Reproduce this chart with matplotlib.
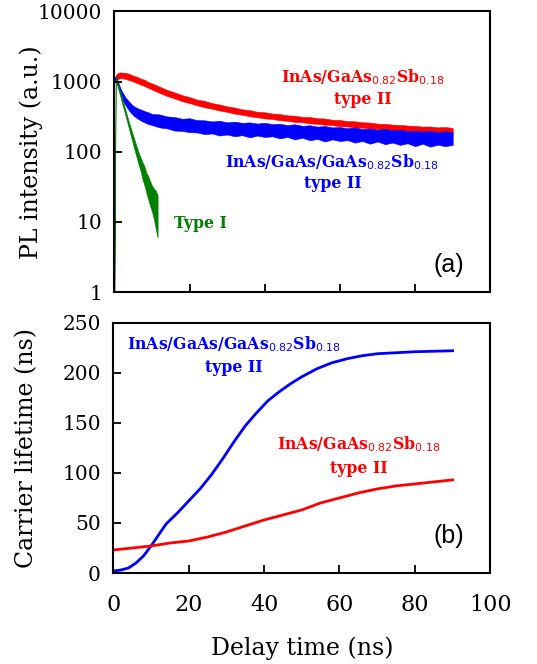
import matplotlib
matplotlib.use("Agg")
import matplotlib.pyplot as plt

# ---- (a) PL decay: noisy bands given as upper / lower envelopes ----
band_t = [0, 0.5, 1, 1.5, 2, 3, 4, 5, 6, 7, 8, 9, 10,
          12, 14, 16, 18, 20, 22, 24, 26, 28, 30, 32, 34, 36, 38, 40,
          42, 44, 46, 48, 50, 52, 54, 56, 58, 60, 62, 64, 66, 68, 70,
          72, 74, 76, 78, 80, 82, 84, 86, 88, 90]

red_hi = [1120, 1260, 1320, 1350, 1340, 1330, 1280, 1210, 1170, 1100, 1060, 985, 940,
          845, 760, 700, 640, 600, 552, 530, 492, 470, 443, 426, 402, 392, 371, 365,
          350, 343, 330, 326, 314, 312, 300, 297, 285, 283, 273, 271, 263, 260, 251,
          250, 243, 241, 236, 234, 228, 229, 222, 225, 218]
red_lo = [990, 1060, 1090, 1110, 1120, 1085, 1045, 1000, 950, 905, 862, 812, 768,
          690, 622, 575, 525, 493, 458, 430, 410, 386, 369, 349, 337, 320, 310, 298,
          293, 281, 276, 266, 263, 253, 250, 242, 239, 231, 229, 221, 220, 213, 211,
          205, 203, 198, 197, 193, 191, 187, 187, 183, 183]

blue_hi = [1120, 1180, 980, 830, 720, 590, 510, 450, 420, 400, 380, 365, 345,
           340, 318, 312, 295, 300, 282, 280, 270, 276, 262, 268, 258, 262, 252, 258,
           248, 250, 240, 246, 234, 238, 228, 232, 222, 225, 216, 222, 210, 214, 206,
           212, 202, 205, 197, 200, 194, 198, 190, 196, 190]
blue_lo = [980, 1020, 820, 680, 570, 455, 380, 330, 300, 278, 262, 248, 240,
           222, 215, 200, 198, 190, 188, 178, 182, 170, 176, 166, 172, 160, 170, 162,
           166, 155, 162, 150, 158, 146, 152, 140, 150, 142, 146, 135, 142, 130, 140,
           128, 135, 125, 132, 120, 130, 118, 126, 120, 125]

green_t = [0, 0.35, 1, 2, 3, 4, 5, 6, 6.5, 7, 7.5, 8, 8.5, 9, 9.5, 10, 10.5, 11, 11.5]
green_hi = [0.9, 1200, 900, 590, 385, 250, 170, 115, 96, 82, 70, 62, 50, 45, 38, 33, 30, 28, 24]
green_lo = [0.8, 1050, 800, 500, 320, 200, 125, 80, 64, 52, 40, 33, 26, 21, 17, 14, 11, 8, 6]

# ---- (b) carrier lifetime ----
life_blue_t = [0, 2, 4, 6, 8, 10, 12, 14, 17, 20, 23, 26, 29, 32, 35, 38, 41, 44, 47,
               50, 54, 58, 62, 66, 70, 75, 80, 85, 90]
life_blue = [2, 3, 5, 10, 17, 27, 38, 49, 60, 72, 84, 98, 114, 131, 147, 160, 172, 181, 189,
             196, 204, 210, 214, 217, 219, 220, 221, 221.5, 222]
life_red_t = [0, 5, 10, 15, 20, 25, 30, 35, 40, 45, 50, 55, 60, 65, 70, 75, 80, 85, 90]
life_red = [23, 25, 27, 30, 32, 36, 41, 47, 53, 58, 63, 70, 75, 80, 84, 87, 89, 91, 93]

RED = "#ff0000"
BLUE = "#0000ff"
GREEN = "#008000"
serif = "DejaVu Serif"
ann = dict(ha="center", va="center", fontsize=11.3, family=serif, fontweight="bold")

fig = plt.figure(figsize=(5.37, 6.64), dpi=100)
ax1 = fig.add_axes([0.213, 0.560, 0.700, 0.423])
ax2 = fig.add_axes([0.211, 0.137, 0.702, 0.377])

ax1.fill_between(band_t, red_lo, red_hi, color=RED, lw=0.4)
ax1.fill_between(band_t, blue_lo, blue_hi, color=BLUE, lw=0.4)
ax1.fill_between(green_t, green_lo, green_hi, color=GREEN, lw=0.4)
ax1.set_yscale("log")
ax1.set_ylim(1, 10000)
ax1.set_xlim(0, 100)
ax1.set_xticks([0, 20, 40, 60, 80, 100])
ax1.set_xticklabels([])
ax1.set_yticks([1, 10, 100, 1000, 10000])
ax1.set_yticklabels(["1", "10", "100", "1000", "10000"])
ax1.minorticks_off()
ax1.set_ylabel("PL intensity (a.u.)", fontsize=17, family=serif)
ax1.yaxis.set_label_coords(-0.19, 0.5)

ax1.text(66, 1150, r"InAs/GaAs$_{0.82}$Sb$_{0.18}$", color=RED, **ann)
ax1.text(66, 560, "type II", color=RED, **ann)
ax1.text(58, 70, r"InAs/GaAs/GaAs$_{0.82}$Sb$_{0.18}$", color=BLUE, **ann)
ax1.text(58, 35, "type II", color=BLUE, **ann)
ax1.text(23, 9.5, "Type I", color=GREEN, **ann)
ax1.text(89, 2.4, "(a)", ha="center", va="center", fontsize=18, family="Liberation Sans")

ax2.plot(life_blue_t, life_blue, color=BLUE, lw=2)
ax2.plot(life_red_t, life_red, color=RED, lw=2)
ax2.set_xlim(0, 100)
ax2.set_ylim(0, 250)
ax2.set_xticks([0, 20, 40, 60, 80, 100])
ax2.set_yticks([0, 50, 100, 150, 200, 250])
ax2.set_xlabel("Delay time (ns)", fontsize=17, family=serif)
ax2.xaxis.set_label_coords(0.5, -0.255)
ax2.set_ylabel("Carrier lifetime (ns)", fontsize=17, family=serif)
ax2.yaxis.set_label_coords(-0.2, 0.5)

ax2.text(32, 229, r"InAs/GaAs/GaAs$_{0.82}$Sb$_{0.18}$", color=BLUE, **ann)
ax2.text(32, 205, "type II", color=BLUE, **ann)
ax2.text(65, 129, r"InAs/GaAs$_{0.82}$Sb$_{0.18}$", color=RED, **ann)
ax2.text(65, 104, "type II", color=RED, **ann)
ax2.text(89, 37, "(b)", ha="center", va="center", fontsize=18, family="Liberation Sans")

for ax in (ax1, ax2):
    for s in ax.spines.values():
        s.set_linewidth(1.5)
    ax.tick_params(direction="in", length=6, width=1.3, top=False, right=False)
    ax.tick_params(axis="y", labelsize=14.5, pad=9)
    ax.tick_params(axis="x", labelsize=16, pad=15)
    for lab in ax.get_xticklabels() + ax.get_yticklabels():
        lab.set_family(serif)

fig.savefig("out.png", dpi=100)
